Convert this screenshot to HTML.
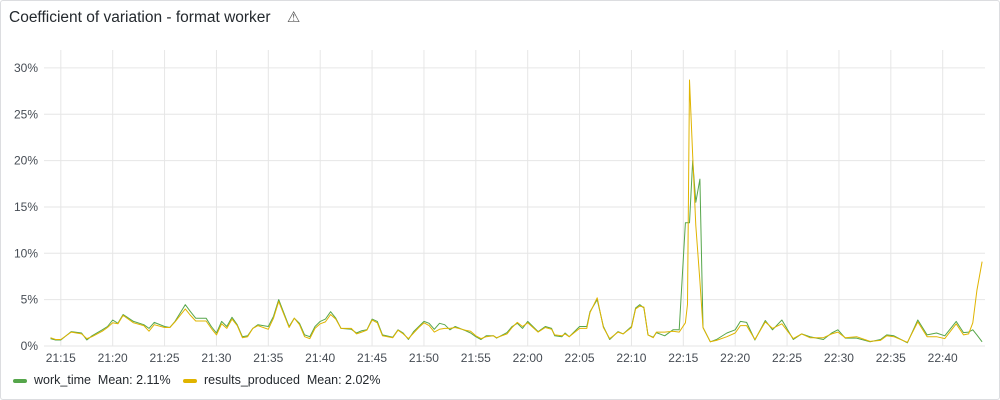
<!DOCTYPE html>
<html><head><meta charset="utf-8"><style>
body{margin:0;background:#fff;font-family:"Liberation Sans",sans-serif;}
#panel{position:absolute;left:0;top:0;width:998px;height:398px;border:1px solid #dcdde0;border-radius:3px;background:#fff;}
#title{position:absolute;left:9px;top:8px;font-size:15.5px;color:#24292e;font-weight:500;}
svg{position:absolute;left:0;top:0;}
.lg{position:absolute;top:373px;font-size:12.5px;color:#24292e;}
.sw{display:inline-block;width:14px;height:4px;border-radius:2px;vertical-align:middle;margin-right:7px;}
</style></head><body>
<div id="panel"></div>
<div id="title">Coefficient of variation - format worker <span style="margin-left:12px;font-size:15px;color:#555">⚠</span></div>
<svg id="chart" width="1000" height="400"></svg>
<div class="lg" style="left:13px"><span class="sw" style="background:#56a64b"></span>work_time&nbsp; Mean: 2.11%</div>
<div class="lg" style="left:183px"><span class="sw" style="background:#e0b400"></span>results_produced&nbsp; Mean: 2.02%</div>
<script>
const yTicks=[0,5,10,15,20,25,30];
const xTickMinutes=[15,20,25,30,35,40,45,50,55,60,65,70,75,80,85,90,95,100];
const xTickLabels=["21:15","21:20","21:25","21:30","21:35","21:40","21:45","21:50","21:55","22:00","22:05","22:10","22:15","22:20","22:25","22:30","22:35","22:40"];
const times=[14,14.5,15,16,17,17.5,18,19,19.5,20,20.5,21,22,23,23.5,24,25,25.5,26,26.5,27,27.5,28,29,29.5,30,30.5,31,31.5,32,32.5,33,33.5,34,35,35.5,36,36.5,37,37.5,38,38.5,39,39.5,40,40.5,41,41.5,42,43,43.5,44,44.5,45,45.5,46,47,47.5,48,48.5,49,49.5,50,50.5,51,51.5,52,52.5,53,54,54.5,55,55.5,56,56.7,57,58,58.5,59,59.5,60,61,61.7,62.3,62.6,63.3,63.6,64,65,65.7,66,66.7,67.3,67.9,68.7,69.2,70,70.4,70.8,71.2,71.6,72.1,72.4,73.2,74,74.6,75.2,75.4,75.6,75.9,76.2,76.6,76.9,77.6,78.2,79.2,80,80.5,81.1,81.9,82.9,83.6,84.5,85.6,86.4,87.2,88.5,89.3,89.9,90.6,91.7,93,94,94.6,95.3,96.6,97.6,98.5,99.4,100.2,101.3,102,102.5,102.9,103.3,103.8];
const workTime=[0.8,0.65,0.65,1.55,1.4,0.65,1.1,1.75,2.1,2.8,2.45,3.4,2.65,2.3,1.9,2.55,2.1,2.0,2.65,3.55,4.45,3.7,3.0,3.0,2.1,1.4,2.65,2.1,3.1,2.3,1.0,1.1,1.9,2.3,2.1,3.2,5.0,3.55,2.1,3.0,2.45,1.2,1.0,2.1,2.65,2.9,3.7,3.0,1.9,1.8,1.4,1.65,1.75,2.9,2.65,1.2,0.95,1.75,1.4,0.7,1.55,2.1,2.65,2.45,1.8,2.45,2.3,1.75,2.1,1.65,1.4,1.0,0.7,1.1,1.1,0.85,1.45,2.1,2.45,1.9,2.65,1.55,2.1,1.9,1.1,1.0,1.4,1.0,2.1,2.1,3.7,5.0,2.1,0.7,1.55,1.3,2.1,4.1,4.45,4.1,1.2,0.95,1.45,1.1,1.75,1.75,13.3,13.3,13.3,20.0,15.5,18.0,2.0,0.45,0.7,1.4,1.75,2.65,2.55,0.65,2.75,1.75,2.8,0.7,1.3,1.0,0.7,1.4,1.75,0.85,0.85,0.45,0.7,1.2,1.1,0.35,2.8,1.2,1.4,1.1,2.65,1.45,1.5,1.75,1.2,0.45];
const resultsProduced=[0.9,0.7,0.7,1.5,1.3,0.8,1.0,1.6,2.0,2.5,2.4,3.3,2.5,2.2,1.6,2.3,2.0,2.0,2.6,3.3,4.0,3.3,2.7,2.7,1.9,1.2,2.4,1.9,2.9,2.2,0.9,1.0,1.9,2.2,1.8,3.0,4.8,3.4,2.0,3.0,2.3,1.0,0.8,1.9,2.4,2.6,3.4,2.9,1.9,1.9,1.3,1.5,1.7,2.8,2.5,1.1,0.9,1.7,1.3,0.8,1.4,2.0,2.5,2.2,1.5,1.8,1.9,1.9,2.0,1.7,1.6,1.1,0.8,1.0,1.1,0.9,1.3,2.0,2.55,2.1,2.5,1.5,2.0,1.8,1.2,1.1,1.3,1.0,1.9,1.9,3.6,5.2,2.0,0.8,1.5,1.3,2.0,4.0,4.3,4.2,1.2,0.9,1.5,1.5,1.6,1.5,2.5,4.5,28.7,20.5,13,7,2.0,0.45,0.6,1.0,1.4,2.2,2.2,0.7,2.6,1.9,2.4,0.8,1.3,0.9,0.9,1.3,1.5,0.9,1.0,0.5,0.6,1.1,1.0,0.4,2.6,1.0,1.0,0.8,2.4,1.2,1.3,2.5,6.0,9.1];

const NS="http://www.w3.org/2000/svg";
const svg=document.getElementById('chart');
const X0=44,X1=985,Y0=346,PXPCT=9.27;
const xs=t=>527.7+(t-60)*10.375;
const ys=v=>Y0-v*PXPCT;
function mk(tag,attrs){const e=document.createElementNS(NS,tag);for(const k in attrs)e.setAttribute(k,attrs[k]);svg.appendChild(e);return e;}
yTicks.forEach(v=>{
  const l=mk('line',{x1:X0,x2:X1,y1:ys(v),y2:ys(v),stroke:'#e6e6e6','stroke-width':1});
  
  
  const t=mk('text',{x:38,y:ys(v)+4,'text-anchor':'end','font-size':12,fill:'#464c54','font-family':'Liberation Sans, sans-serif'});
  t.textContent=v+'%';
  
  
});
xTickMinutes.forEach((m,i)=>{
  const l=mk('line',{x1:xs(m),x2:xs(m),y1:50,y2:Y0,stroke:'#e6e6e6','stroke-width':1});
  
  
  const t=mk('text',{x:xs(m),y:362,'text-anchor':'middle','font-size':12,fill:'#464c54','font-family':'Liberation Sans, sans-serif'});
  t.textContent=xTickLabels[i];
  
  
});
function series(vals,color,name){
  const d=times.map((t,i)=>(i?'L':'M')+xs(t).toFixed(1)+','+ys(vals[i]).toFixed(1)).join('');
  const p=mk('path',{d:d,fill:'none',stroke:color,'stroke-width':1,'stroke-linejoin':'round'});
  
  
}
series(workTime,'#56a64b','work-time-line');
series(resultsProduced,'#e0b400','results-produced-line');
</script>
</body></html>
